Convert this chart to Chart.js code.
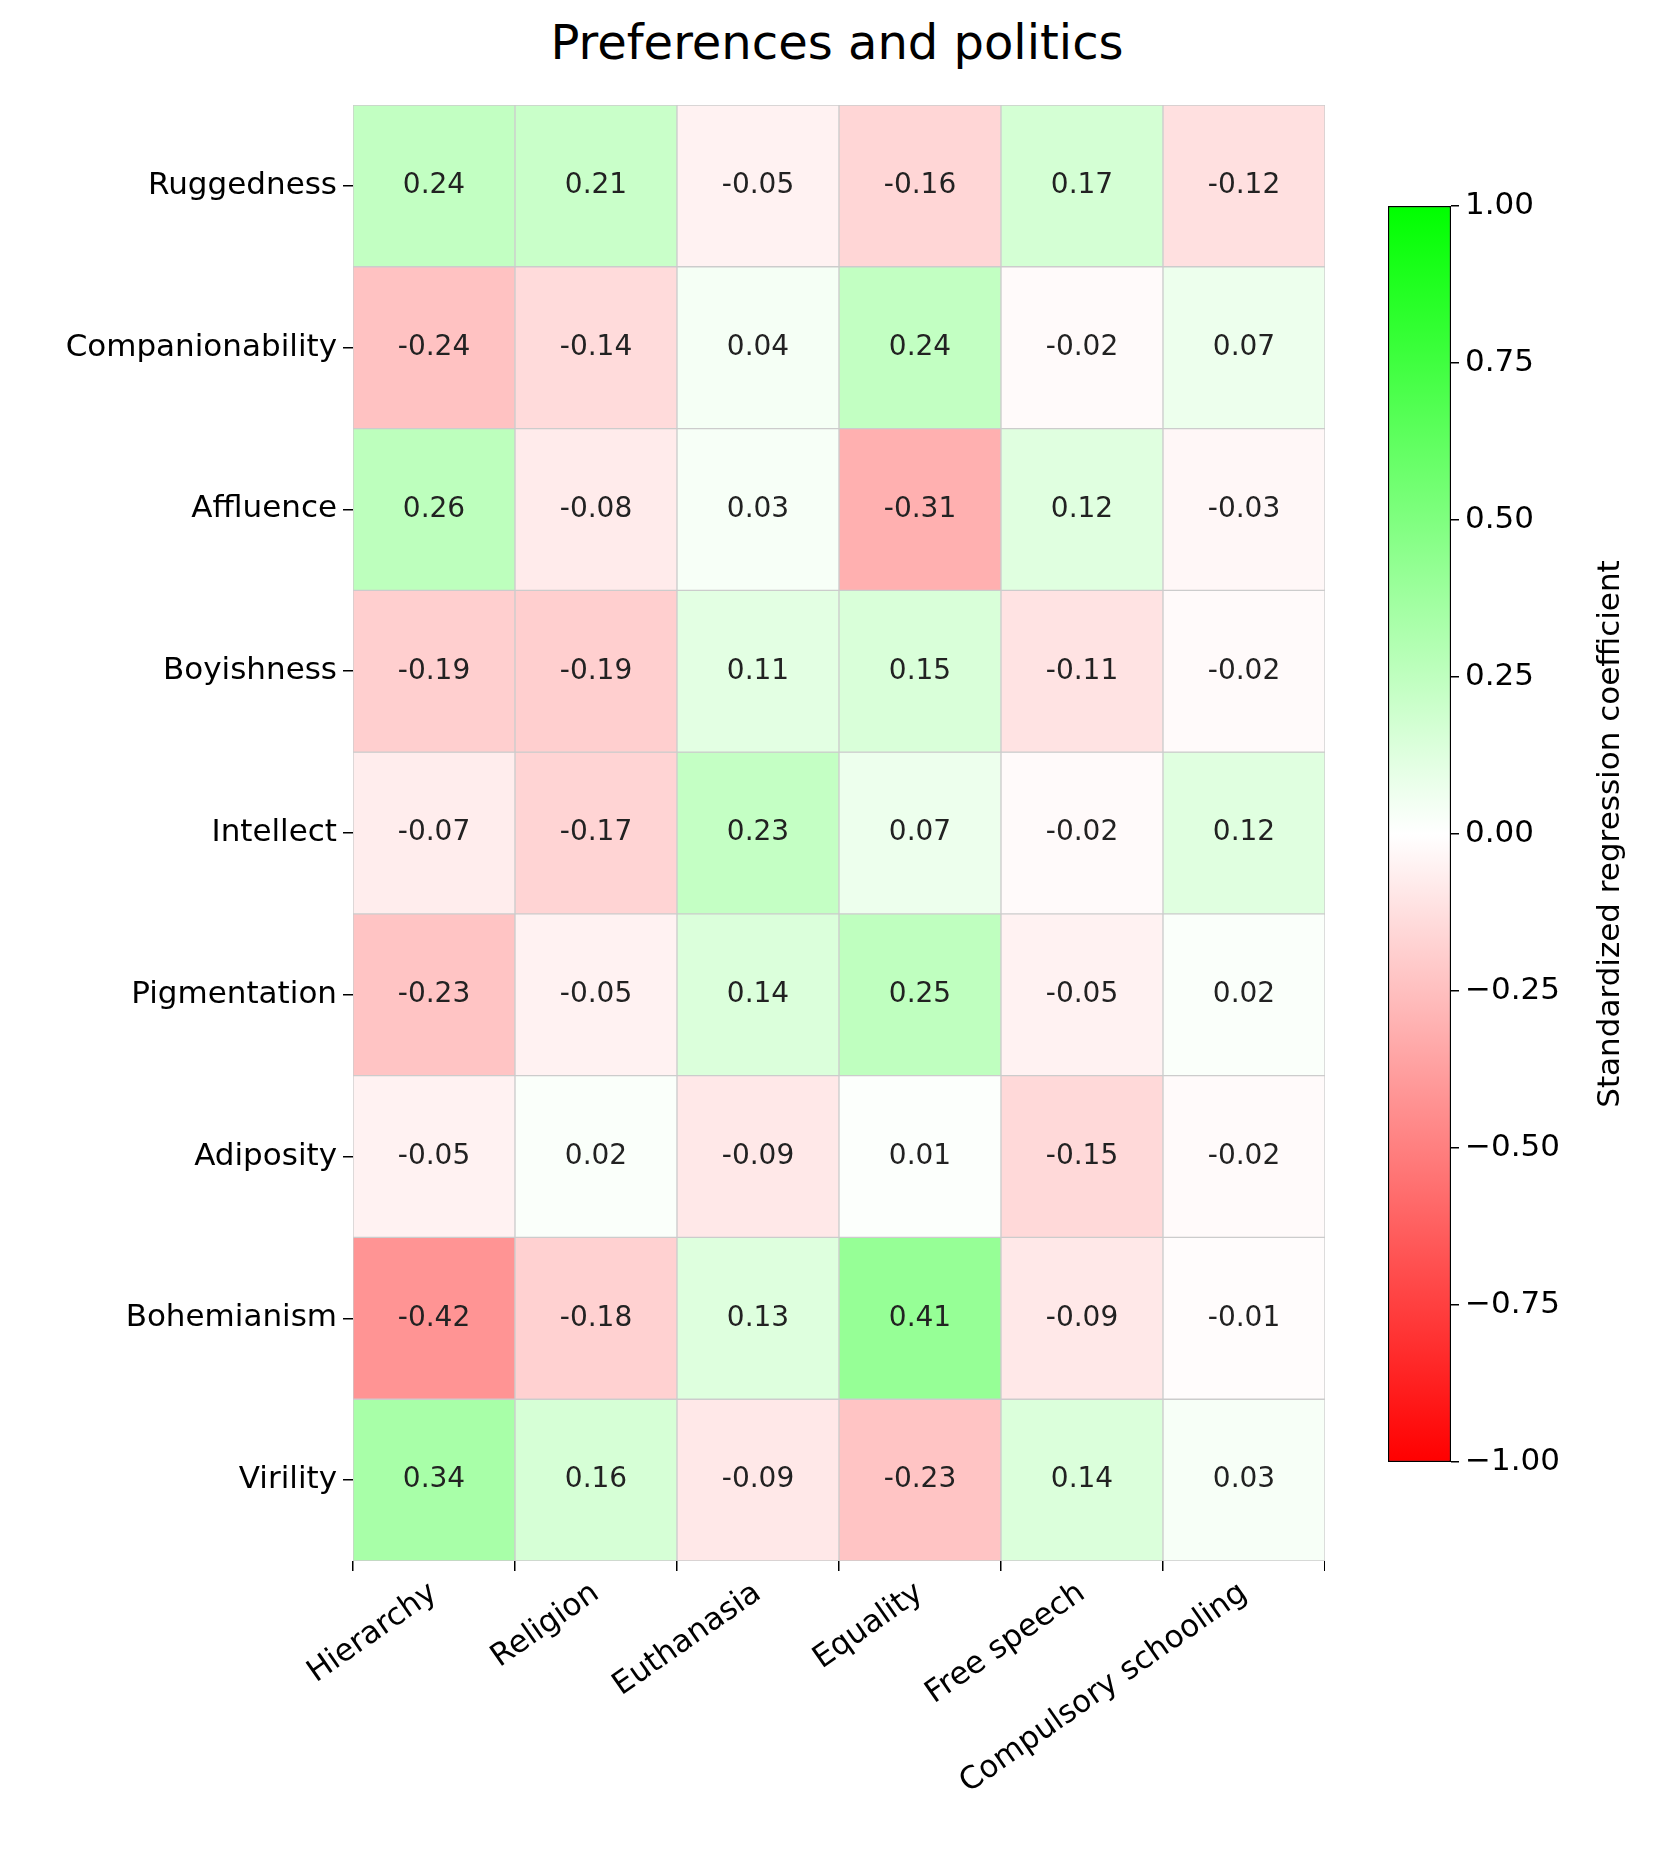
<!DOCTYPE html>
<html><head><meta charset="utf-8">
<script src="https://cdn.jsdelivr.net/npm/chart.js@4"></script>
<style>
body{margin:0;width:1653px;height:1874px;background:#fff;position:relative;font-family:"DejaVu Sans",sans-serif;}
#title{position:absolute;top:14px;left:0;width:1674px;text-align:center;font-size:48px;}
#hm{position:absolute;left:0;top:0;width:1325px;height:1874px;}
#cb{position:absolute;left:1378px;top:0;width:275px;height:1874px;}
</style></head><body>
<div id="title">Preferences and politics</div>
<div id="hm"><canvas id="heat"></canvas></div>
<div id="cb"><canvas id="bar"></canvas></div>
<script>
const traits = ["Ruggedness","Companionability","Affluence","Boyishness","Intellect","Pigmentation","Adiposity","Bohemianism","Virility"];
const issues = ["Hierarchy","Religion","Euthanasia","Equality","Free speech","Compulsory schooling"];
const ruggedness       = [0.24, 0.21, -0.05, -0.16, 0.17, -0.12];
const companionability = [-0.24, -0.14, 0.04, 0.24, -0.02, 0.07];
const affluence        = [0.26, -0.08, 0.03, -0.31, 0.12, -0.03];
const boyishness       = [-0.19, -0.19, 0.11, 0.15, -0.11, -0.02];
const intellect        = [-0.07, -0.17, 0.23, 0.07, -0.02, 0.12];
const pigmentation     = [-0.23, -0.05, 0.14, 0.25, -0.05, 0.02];
const adiposity        = [-0.05, 0.02, -0.09, 0.01, -0.15, -0.02];
const bohemianism      = [-0.42, -0.18, 0.13, 0.41, -0.09, -0.01];
const virility         = [0.34, 0.16, -0.09, -0.23, 0.14, 0.03];
const rows = [ruggedness, companionability, affluence, boyishness, intellect, pigmentation, adiposity, bohemianism, virility];
const cbTicks = [-1, -0.75, -0.5, -0.25, 0, 0.25, 0.5, 0.75, 1];

function color(v){
  if (v >= 0){ const c = Math.round(255*(1-v)); return `rgb(${c},255,${c})`; }
  const c = Math.round(255*(1+v)); return `rgb(255,${c},${c})`;
}
const n = traits.length;
const datasets = rows.map((vals, r) => ({
  label: traits[r],
  data: vals.map(() => [n-1-r, n-r]),
  vals: vals,
  backgroundColor: vals.map(color),
  borderColor: '#cccccc', borderWidth: 1, borderSkipped: false,
  grouped: false, barPercentage: 1, categoryPercentage: 1
}));

const cellText = {
  id: 'cellText',
  afterDatasetsDraw(chart){
    const ctx = chart.ctx;
    ctx.save();
    ctx.font = '28px "DejaVu Sans"'; ctx.fillStyle = '#222';
    ctx.textAlign = 'center'; ctx.textBaseline = 'middle';
    chart.data.datasets.forEach((ds, i) => {
      chart.getDatasetMeta(i).data.forEach((el, j) => {
        const p = el.getProps(['x','y','base'], true);
        ctx.fillText(ds.vals[j].toFixed(2), p.x, (p.y+p.base)/2);
      });
    });
    ctx.restore();
  }
};

new Chart(document.getElementById('heat'), {
  type: 'bar',
  data: { labels: issues, datasets },
  plugins: [cellText],
  options: {
    responsive: true, maintainAspectRatio: false, animation: false,
    layout: { padding: { top: 105, right: 0, left: 0, bottom: 0 } },
    plugins: { legend: { display: false }, tooltip: { enabled: false } },
    scales: {
      x: {
        offset: true,
        grid: { drawOnChartArea: false, tickLength: 10, color: '#000', lineWidth: 1.5 },
        border: { display: false },
        ticks: { color: '#000', font: { size: 31, family: 'DejaVu Sans' }, minRotation: 35, maxRotation: 35, padding: 4 },
        afterFit(s){ s.height = 1874 - 1561; }
      },
      y: {
        min: 0, max: n,
        afterBuildTicks(s){ s.ticks = traits.map((t, i) => ({ value: n-1-i+0.5 })); },
        grid: { drawOnChartArea: false, tickLength: 10, color: '#000', lineWidth: 1.5 },
        border: { display: false },
        ticks: { color: '#000', font: { size: 31, family: 'DejaVu Sans' }, padding: 6,
          callback(v){ return traits[n-1-Math.floor(v)]; } },
        afterFit(s){ s.width = 353; }
      }
    }
  }
});

const cbTitle = {
  id: 'cbTitle',
  afterDraw(chart){
    const ctx = chart.ctx, a = chart.chartArea;
    ctx.save();
    ctx.translate(233, (a.top+a.bottom)/2);
    ctx.rotate(-Math.PI/2);
    ctx.font = '31px "DejaVu Sans"'; ctx.fillStyle = '#000';
    ctx.textAlign = 'center'; ctx.textBaseline = 'middle';
    ctx.fillText('Standardized regression coefficient', 0, 0);
    ctx.restore();
  }
};

new Chart(document.getElementById('bar'), {
  type: 'bar',
  data: { labels: [''], datasets: [{
    data: [[-1, 1]],
    backgroundColor(c){
      const a = c.chart.chartArea; if (!a) return '#fff';
      const g = c.chart.ctx.createLinearGradient(0, a.bottom, 0, a.top);
      g.addColorStop(0, 'rgb(255,0,0)'); g.addColorStop(0.5, '#fff'); g.addColorStop(1, 'rgb(0,255,0)');
      return g;
    },
    borderColor: '#000', borderWidth: 1.5, borderSkipped: false,
    barPercentage: 1, categoryPercentage: 1
  }]},
  plugins: [cbTitle],
  options: {
    responsive: true, maintainAspectRatio: false, animation: false,
    layout: { padding: { top: 206, bottom: 1874 - 1462, left: 10, right: 0 } },
    plugins: { legend: { display: false }, tooltip: { enabled: false } },
    scales: {
      x: { display: false },
      y: {
        position: 'right', min: -1, max: 1,
        afterBuildTicks(s){ s.ticks = cbTicks.map(v => ({ value: v })); },
        grid: { drawOnChartArea: false, tickLength: 8, color: '#000', lineWidth: 1.5 },
        border: { display: false },
        ticks: { color: '#000', font: { size: 31, family: 'DejaVu Sans' }, padding: 6,
          callback(v){ return (v < 0 ? '\u2212' : '') + Math.abs(v).toFixed(2); } },
        afterFit(s){ s.width = 275 - 10 - 63; }
      }
    }
  }
});
</script>
</body></html>
